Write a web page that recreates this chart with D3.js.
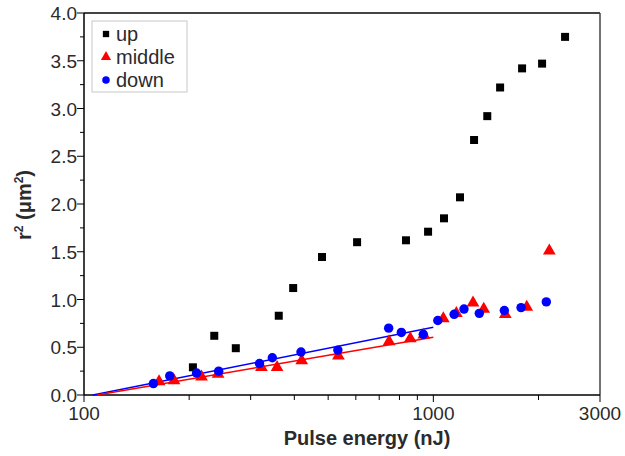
<!DOCTYPE html>
<html lang="en">
<head>
<meta charset="utf-8">
<title>r2 vs pulse energy</title>
<script src="https://d3js.org/d3.v7.js"></script>
<style>
  body { margin: 0; background: #fff; }
  text { font-family: "Liberation Sans", Arial, sans-serif; fill: #2b2b2b; }
</style>
</head>
<body>
<svg id="chart"></svg>
<script>
// data (x: pulse energy nJ, y: r^2 um^2)
const upX = [205, 236, 272, 361, 397, 480, 605, 835, 966, 1073, 1192, 1308, 1427, 1553, 1795, 2048, 2383];
const upY = [0.29, 0.62, 0.49, 0.83, 1.12, 1.445, 1.60, 1.62, 1.71, 1.85, 2.07, 2.67, 2.92, 3.22, 3.42, 3.47, 3.75];

const midX = [164, 181, 217, 242, 322, 357, 420, 535, 747, 859, 939, 1068, 1164, 1299, 1394, 1607, 1851, 2148];
const midY = [0.14, 0.15, 0.19, 0.22, 0.29, 0.29, 0.36, 0.41, 0.56, 0.59, 0.63, 0.80, 0.855, 0.965, 0.90, 0.845, 0.92, 1.51];

const downX = [158, 176, 210, 243, 318, 346, 418, 533, 745, 810, 936, 1030, 1147, 1224, 1354, 1597, 1783, 2106];
const downY = [0.12, 0.20, 0.23, 0.25, 0.33, 0.39, 0.45, 0.47, 0.70, 0.655, 0.635, 0.78, 0.845, 0.90, 0.855, 0.885, 0.915, 0.975];

// linear fits (in log x), endpoints
const downFit = [[106, 0], [1000, 0.71]];
const midFit = [[109, 0], [1000, 0.605]];

const legendNames = ["up", "middle", "down"];
const xTickLabels = [100, 1000, 3000];
const yTickLabels = [0, 0.5, 1, 1.5, 2, 2.5, 3, 3.5, 4];

const w = 625, h = 456;
const margin = {top: 13, right: 25, bottom: 61, left: 84};

const svg = d3.select("#chart").attr("width", w).attr("height", h);

const x = d3.scaleLog().domain([100, 3000]).range([margin.left, w - margin.right]);
const y = d3.scaleLinear().domain([0, 4]).range([h - margin.bottom, margin.top]);

// frame: top and right
svg.append("line")
  .attr("x1", x(100)).attr("x2", x(3000))
  .attr("y1", y(4)).attr("y2", y(4))
  .attr("stroke", "#444").attr("stroke-width", 2);
svg.append("line")
  .attr("x1", x(3000)).attr("x2", x(3000))
  .attr("y1", y(4)).attr("y2", y(0))
  .attr("stroke", "#444").attr("stroke-width", 1.5);

// x axis
const xMinor = [200, 300, 400, 500, 600, 700, 800, 900, 2000];
const xAxis = svg.append("g").attr("transform", `translate(0,${y(0)})`);
xAxis.append("line").attr("x1", x(100)).attr("x2", x(3000)).attr("stroke", "#000").attr("stroke-width", 1.5);
xAxis.selectAll(".minor").data(xMinor).join("line")
  .attr("x1", d => x(d)).attr("x2", d => x(d)).attr("y1", 0).attr("y2", 5)
  .attr("stroke", "#000");
xAxis.selectAll(".major").data(xTickLabels).join("line")
  .attr("x1", d => x(d)).attr("x2", d => x(d)).attr("y1", 0).attr("y2", 7)
  .attr("stroke", "#000");
xAxis.selectAll("text").data(xTickLabels).join("text")
  .attr("x", d => x(d)).attr("y", 25)
  .attr("text-anchor", "middle").attr("font-size", 19)
  .text(d => d);

// y axis
const yAxis = svg.append("g").attr("transform", `translate(${x(100)},0)`);
yAxis.append("line").attr("y1", y(0)).attr("y2", y(4)).attr("stroke", "#000").attr("stroke-width", 1.5);
yAxis.selectAll(".minor").data(d3.range(0.25, 4, 0.5)).join("line")
  .attr("y1", d => y(d)).attr("y2", d => y(d)).attr("x1", 0).attr("x2", -4)
  .attr("stroke", "#000");
yAxis.selectAll(".major").data(yTickLabels).join("line")
  .attr("y1", d => y(d)).attr("y2", d => y(d)).attr("x1", 0).attr("x2", -7)
  .attr("stroke", "#000");
yAxis.selectAll("text").data(yTickLabels).join("text")
  .attr("x", -7).attr("y", d => y(d) + 7)
  .attr("text-anchor", "end").attr("font-size", 19)
  .text(d => d3.format(".1f")(d));

// axis titles
svg.append("text")
  .attr("x", 367).attr("y", 445)
  .attr("text-anchor", "middle").attr("font-size", 20).attr("font-weight", "bold")
  .text("Pulse energy (nJ)");
const yt = svg.append("text")
  .attr("transform", `translate(31,205) rotate(-90)`)
  .attr("text-anchor", "middle").attr("font-size", 20).attr("font-weight", "bold");
yt.append("tspan").text("r");
yt.append("tspan").attr("font-size", 12).attr("dy", -8).text("2");
yt.append("tspan").attr("dy", 8).text(" (\u03bcm");
yt.append("tspan").attr("font-size", 12).attr("dy", -8).text("2");
yt.append("tspan").attr("dy", 8).text(")");

// fit lines
const line = d3.line().x(d => x(d[0])).y(d => y(d[1]));
svg.append("path").datum(downFit).attr("d", line).attr("stroke", "#0000ff").attr("stroke-width", 1.5).attr("fill", "none");
svg.append("path").datum(midFit).attr("d", line).attr("stroke", "#ff0000").attr("stroke-width", 1.5).attr("fill", "none");

// markers
const sq = d3.symbol().type(d3.symbolSquare).size(64);
const tri = d3.symbol().type(d3.symbolTriangle).size(70);
const circ = d3.symbol().type(d3.symbolCircle).size(70);

svg.append("g").selectAll("path").data(d3.zip(upX, upY)).join("path")
  .attr("transform", d => `translate(${x(d[0])},${y(d[1])})`)
  .attr("d", sq).attr("fill", "#000");
svg.append("g").selectAll("path").data(d3.zip(midX, midY)).join("path")
  .attr("transform", d => `translate(${x(d[0])},${y(d[1])})`)
  .attr("d", tri).attr("fill", "#ff0000");
svg.append("g").selectAll("path").data(d3.zip(downX, downY)).join("path")
  .attr("transform", d => `translate(${x(d[0])},${y(d[1])})`)
  .attr("d", circ).attr("fill", "#0000ff");

// legend
const lg = svg.append("g").attr("transform", "translate(92,21)");
lg.append("rect").attr("width", 95).attr("height", 71)
  .attr("fill", "#fff").attr("stroke", "#c8c8c8");
const legSyms = [
  {sym: d3.symbol().type(d3.symbolSquare).size(40), color: "#000"},
  {sym: d3.symbol().type(d3.symbolTriangle).size(45), color: "#ff0000"},
  {sym: d3.symbol().type(d3.symbolCircle).size(45), color: "#0000ff"}
];
legendNames.forEach((name, i) => {
  const cy = 13 + i * 23;
  lg.append("path").attr("transform", `translate(14,${cy})`)
    .attr("d", legSyms[i].sym).attr("fill", legSyms[i].color);
  lg.append("text").attr("x", 24).attr("y", cy + 7)
    .attr("font-size", 20).text(name);
});
</script>
</body>
</html>
